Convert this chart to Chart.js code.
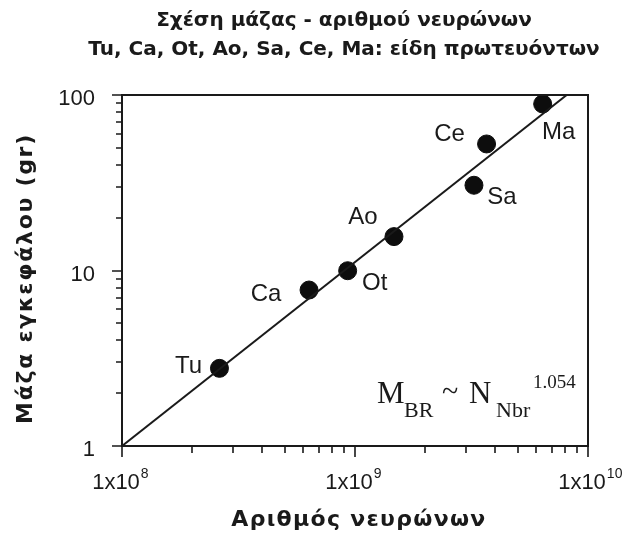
<!DOCTYPE html>
<html>
<head>
<meta charset="utf-8">
<script src="https://cdn.jsdelivr.net/npm/chart.js@4.4.1/dist/chart.umd.min.js"></script>
<style>
  html, body { margin: 0; padding: 0; background: #ffffff; }
  #wrap { width: 642px; height: 535px; }
</style>
</head>
<body>
<div id="wrap"><canvas id="chart" width="642" height="535"></canvas></div>
<script>
// Primate species: number of neurons vs brain mass
const species   = ['Tu', 'Ca', 'Ot', 'Ao', 'Sa', 'Ce', 'Ma'];
const neurons   = [2.62e8, 6.35e8, 9.3e8, 1.47e9, 3.24e9, 3.67e9, 6.39e9];
const brainMass = [2.77, 7.74, 9.97, 15.6, 30.6, 52.6, 88.9];

// Power-law fit line end points
const fitNeurons = [1e8, 8.1e9];
const fitMass    = [1, 100];

// Axis ticks (x labels are "1x10" with a raised exponent)
const xTickValues    = [1e8, 1e9, 1e10];
const xTickLabels    = ['1x10', '1x10', '1x10'];
const xTickExponents = ['8', '9', '10'];
const yTickValues    = [1, 10, 100];
const yTickLabels    = ['1', '10', '100'];

// Axis titles
const xTitle = 'Αριθμός νευρώνων';
const yTitle = 'Μάζα εγκεφάλου (gr)';

const INK = '#1a1a1a';
const SANS = '"Liberation Sans", Arial, sans-serif';
const HEAD = '"DejaVu Sans", "Noto Sans", sans-serif';
const TICK_FONT = 22;

// every decade tick plus the 2..9 minor ticks in between
function logTicks(majors) {
  const out = [];
  majors.forEach((v, i) => {
    out.push({ value: v, major: true });
    if (i < majors.length - 1) {
      for (let m = 2; m <= 9; m++) out.push({ value: v * m, major: false });
    }
  });
  return out;
}

// where each species name sits relative to its dot
const nameOffsets = {
  Tu: [-31, -2], Ca: [-43, 4], Ot: [27, 13], Ao: [-31, -19],
  Sa: [28, 12], Ce: [-37, -10], Ma: [16, 28]
};

const framePlugin = {
  id: 'frameAndTicks',
  afterDraw(chart) {
    const { ctx, chartArea: a, scales } = chart;
    ctx.save();
    ctx.strokeStyle = INK;
    ctx.lineWidth = 2;
    ctx.strokeRect(a.left, a.top, a.right - a.left, a.bottom - a.top);
    ctx.lineWidth = 1.6;
    ctx.beginPath();
    scales.x.ticks.forEach(t => {
      const px = Math.round(scales.x.getPixelForValue(t.value));
      const len = t.major ? 11 : 7;
      ctx.moveTo(px, a.bottom);
      ctx.lineTo(px, a.bottom + len);
    });
    scales.y.ticks.forEach(t => {
      const py = Math.round(scales.y.getPixelForValue(t.value));
      const len = t.major ? 10 : 6;
      ctx.moveTo(a.left, py);
      ctx.lineTo(a.left - len, py);
    });
    ctx.stroke();

    // exponents after the "1x10" tick labels
    const lo = chart.options.scales.x.ticks.labelOffset;
    ctx.fillStyle = INK;
    ctx.textAlign = 'left';
    ctx.textBaseline = 'alphabetic';
    xTickValues.forEach((v, i) => {
      ctx.font = TICK_FONT + 'px ' + SANS;
      const w = ctx.measureText(xTickLabels[i]).width;
      const px = scales.x.getPixelForValue(v) + lo;
      ctx.font = '14px ' + SANS;
      ctx.fillText(xTickExponents[i], px + w / 2 + 1, a.bottom + 32);
    });
    ctx.restore();
  }
};

// axis titles, drawn with a little extra tracking
const axisTitlePlugin = {
  id: 'axisTitles',
  afterDraw(chart) {
    const { ctx, chartArea: a } = chart;
    ctx.save();
    ctx.fillStyle = INK;
    ctx.font = 'bold 22px ' + HEAD;
    ctx.textAlign = 'center';
    ctx.textBaseline = 'middle';
    if ('letterSpacing' in ctx) ctx.letterSpacing = '1.3px';
    ctx.fillText(xTitle, (a.left + a.right) / 2 + 4, chart.height - 15);
    ctx.translate(26, (a.top + a.bottom) / 2 + 8);
    ctx.rotate(-Math.PI / 2);
    if ('letterSpacing' in ctx) ctx.letterSpacing = '1.7px';
    ctx.fillText(yTitle, 0, 0);
    ctx.restore();
  }
};

const namesPlugin = {
  id: 'speciesNames',
  afterDatasetsDraw(chart) {
    const { ctx } = chart;
    const meta = chart.getDatasetMeta(1);
    ctx.save();
    ctx.fillStyle = INK;
    ctx.font = '24px ' + SANS;
    ctx.textAlign = 'center';
    ctx.textBaseline = 'middle';
    meta.data.forEach((pt, i) => {
      const name = species[i];
      const [dx, dy] = nameOffsets[name];
      ctx.fillText(name, pt.x + dx, pt.y + dy);
    });
    ctx.restore();
  }
};

const formulaPlugin = {
  id: 'formula',
  afterDraw(chart) {
    const { ctx, chartArea: a } = chart;
    const serif = '"Liberation Serif", "Times New Roman", serif';
    const base = a.bottom - 43;
    const put = (txt, size, dx, dy) => {
      ctx.font = size + 'px ' + serif;
      ctx.fillText(txt, a.left + dx, base + dy);
    };
    ctx.save();
    ctx.fillStyle = INK;
    ctx.textAlign = 'left';
    ctx.textBaseline = 'alphabetic';
    put('M', 31, 255, 0);
    put('BR', 22, 282, 14);
    put('~', 30, 320, -2);
    put('N', 31, 347, 0);
    put('Nbr', 22, 374, 14);
    put('1.054', 19, 411, -15);
    ctx.restore();
  }
};

new Chart(document.getElementById('chart'), {
  data: {
    datasets: [
      {
        type: 'line',
        data: fitNeurons.map((v, i) => ({ x: v, y: fitMass[i] })),
        borderColor: INK,
        borderWidth: 2,
        pointRadius: 0,
        fill: false,
        tension: 0
      },
      {
        type: 'scatter',
        data: neurons.map((v, i) => ({ x: v, y: brainMass[i] })),
        backgroundColor: '#0d0d0d',
        borderColor: '#0d0d0d',
        pointRadius: 9,
        pointHoverRadius: 9
      }
    ]
  },
  options: {
    responsive: false,
    animation: false,
    devicePixelRatio: 1,
    layout: { padding: { left: 46, right: 0, top: 0, bottom: 0 } },
    plugins: {
      legend: { display: false },
      tooltip: { enabled: false },
      title: {
        display: true,
        text: ['Σχέση μάζας - αριθμού νευρώνων', 'Tu, Ca, Ot, Ao, Sa, Ce, Ma: είδη πρωτευόντων'],
        color: INK,
        font: { family: HEAD, size: 20, weight: 'bold', lineHeight: 1.45 },
        padding: { top: 6, bottom: 31 }
      }
    },
    scales: {
      x: {
        type: 'logarithmic',
        position: 'bottom',
        min: 1e8,
        max: 1e10,
        afterBuildTicks: s => { s.ticks = logTicks(xTickValues); },
        afterFit: s => { s.height = 89; },
        grid: { display: false, drawTicks: false },
        border: { display: false },
        ticks: {
          autoSkip: false,
          maxRotation: 0,
          padding: 24,
          labelOffset: -6,
          color: INK,
          font: { family: SANS, size: TICK_FONT },
          callback: v => { const i = xTickValues.indexOf(v); return i < 0 ? '' : xTickLabels[i]; }
        },
        title: { display: false }
      },
      y: {
        type: 'logarithmic',
        position: 'left',
        min: 1,
        max: 100,
        afterBuildTicks: s => { s.ticks = logTicks(yTickValues); },
        afterFit: s => { s.width = 76; },
        grid: { display: false, drawTicks: false },
        border: { display: false },
        ticks: {
          autoSkip: false,
          padding: 27,
          labelOffset: 4,
          color: INK,
          font: { family: SANS, size: TICK_FONT },
          callback: v => { const i = yTickValues.indexOf(v); return i < 0 ? '' : yTickLabels[i]; }
        },
        title: { display: false }
      },
      // empty right-hand margin so the plot ends where the frame does
      margin: {
        type: 'linear',
        position: 'right',
        display: true,
        grid: { display: false, drawTicks: false },
        border: { display: false },
        ticks: { display: false },
        afterFit: s => { s.width = 54; }
      }
    }
  },
  plugins: [framePlugin, axisTitlePlugin, namesPlugin, formulaPlugin]
});
</script>
</body>
</html>
